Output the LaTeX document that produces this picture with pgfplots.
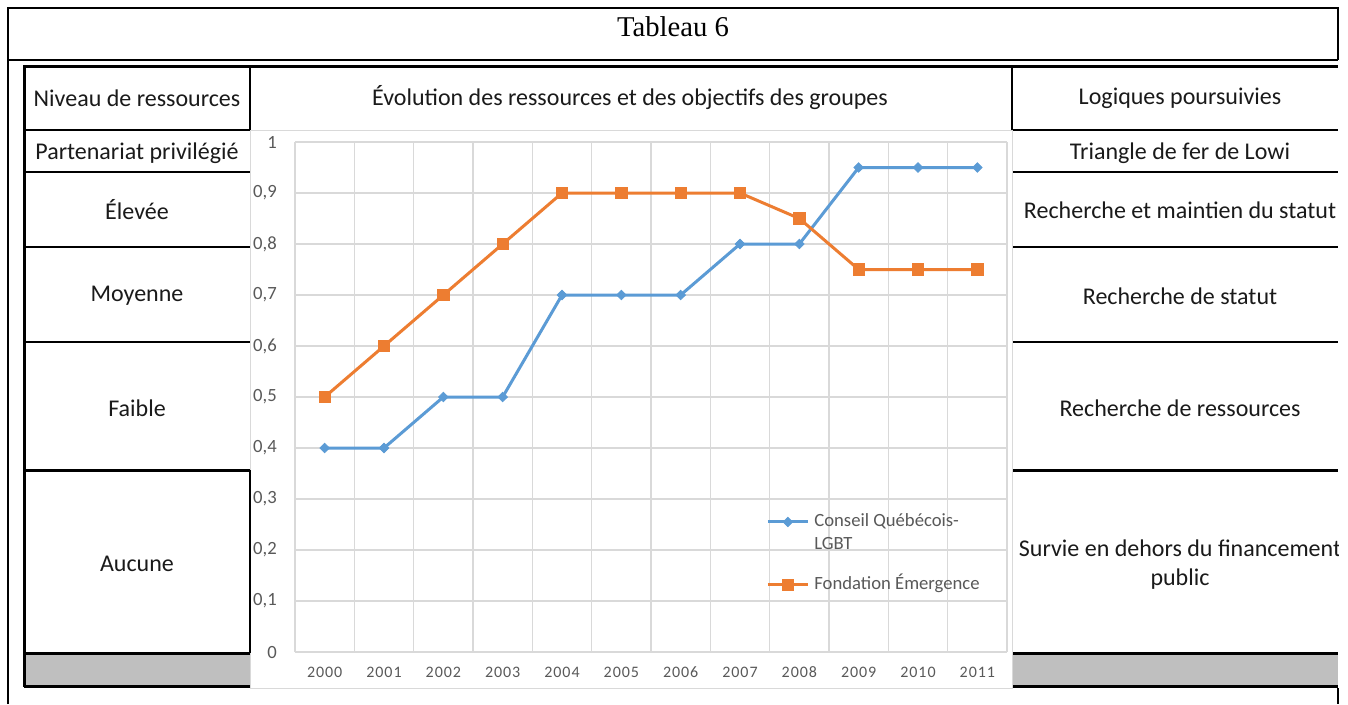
\documentclass[border=0pt]{standalone}
\usepackage{pgfplots}
\pgfplotsset{compat=1.18}
\usepackage{fontspec}
\setmainfont{Carlito}
\newfontfamily\timesf{Liberation Serif}
\definecolor{cblue}{HTML}{5B9BD5}
\definecolor{corange}{HTML}{ED7D31}
\definecolor{tickc}{HTML}{595959}
\definecolor{gridc}{HTML}{D9D9D9}
\definecolor{rowgray}{HTML}{BFBFBF}
\definecolor{txt}{HTML}{1A1A1A}
\begin{document}
\begin{tikzpicture}
\begin{scope}[x=0.75pt,y=-0.75pt]
\path[use as bounding box, fill=white] (0,0) rectangle (1348,704);
% gray bottom row
\fill[rowgray] (24,653) rectangle (250,686);
\fill[rowgray] (1012,653) rectangle (1338,686);
% top box
\draw[line width=1.5pt] (8,704) -- (8,8) -- (1338,8) -- (1338,60);
\draw[line width=1.2pt] (8,60) -- (1338,60);
\draw[line width=2pt] (1338,688) -- (1338,704);
\node[font=\timesf\fontsize{21.5}{24}\selectfont] at (673,27) {Tableau 6};
% table lines
\draw[line width=2.25pt] (24,66) -- (1338,66);
\draw[line width=2.25pt] (24,65) -- (24,687);
\foreach \yy in {130,172,247,342} {
  \draw[line width=1.2pt] (24,\yy) -- (250,\yy);
  \draw[line width=1.2pt] (1012,\yy) -- (1338,\yy);
}
\foreach \yy in {470,653,686} {
  \draw[line width=2.25pt] (24,\yy) -- (250,\yy);
  \draw[line width=2.25pt] (1012,\yy) -- (1338,\yy);
}
\draw[line width=1.5pt] (250,66) -- (250,130);
\draw[line width=1.5pt] (1012,66) -- (1012,130);
% chart area
\fill[white] (250.8,130.8) rectangle (1011.2,688);
\draw[gridc, line width=0.75pt] (250,130) -- (250,688) -- (1012,688) -- (1012,130) -- cycle;
\draw[line width=1.5pt] (250,470) -- (250,653);
% cell texts
\begin{scope}[every node/.style={font=\fontsize{18}{22}\selectfont, text=txt, align=center}]
\node at (137,98) {Niveau de ressources};
\node at (137,153) {Partenariat privilégié};
\node at (137,210) {Élevée};
\node at (137,296) {Moyenne};
\node at (137,408) {Faible};
\node at (137,564) {Aucune};
\node at (630,98) {Évolution des ressources et des objectifs des groupes};
\begin{scope}
\clip (1012,66) rectangle (1338,704);
\node at (1180,98) {Logiques poursuivies};
\node at (1180,153) {Triangle de fer de Lowi};
\node at (1180,210) {Recherche et maintien du statut};
\node at (1180,296) {Recherche de statut};
\node at (1180,408) {Recherche de ressources};
\node at (1180,548) {Survie en dehors du financement};
\node at (1180,579) {public};
\end{scope}
\end{scope}
\end{scope}
\begin{axis}[
  at={(221.25pt,-489pt)}, anchor=south west, scale only axis,
  width=534pt, height=382.5pt,
  xmin=-0.5, xmax=11.5, ymin=0, ymax=1,
  xtick={0,1,2,3,4,5,6,7,8,9,10,11},
  xticklabels={2000,2001,2002,2003,2004,2005,2006,2007,2008,2009,2010,2011},
  minor xtick={-0.5,0.5,1.5,2.5,3.5,4.5,5.5,6.5,7.5,8.5,9.5,10.5,11.5},
  ytick={0,0.1,0.2,0.3,0.4,0.5,0.6,0.7,0.8,0.9,1},
  xminorgrids, ymajorgrids,
  grid style={gridc, line width=0.9pt},
  minor grid style={gridc, line width=0.9pt},
  axis line style={draw=none},
  major tick length=0pt, minor tick length=0pt,
  /pgf/number format/.cd, use comma, fixed, assume math mode=true,
  /pgfplots/.cd,
  yticklabel style={font=\fontsize{14}{16}\selectfont, text=tickc, anchor=east, inner sep=0pt, xshift=-13.5pt},
  xticklabel style={font=\fontsize{12}{14}\selectfont\addfontfeature{LetterSpace=6}, text=tickc, anchor=base, inner sep=0pt, yshift=-18.75pt},
  legend style={at={(axis cs:7.44,0.2725)}, anchor=north west, draw=none, fill=none, inner sep=0pt,
    font=\fontsize{14}{16}\selectfont, text=tickc, cells={anchor=west}, row sep=4.25pt, column sep=3.75pt,
    nodes={inner sep=0pt, text height=10pt, text depth=3pt}},
  legend image code/.code={\draw[#1, mark repeat=2, mark phase=2] plot coordinates {(0pt,0pt) (15pt,0pt) (30pt,0pt)};},
]
\addplot[cblue, line width=2.25pt, mark=diamond*, mark size=3.6pt, mark options={xscale=1.35, line width=0.5pt, solid}]
  coordinates {(0,0.4)(1,0.4)(2,0.5)(3,0.5)(4,0.7)(5,0.7)(6,0.7)(7,0.8)(8,0.8)(9,0.95)(10,0.95)(11,0.95)};
\addlegendentry{Conseil Québécois-}
\addlegendimage{empty legend}
\addlegendentry[text depth=15.75pt]{LGBT}
\addplot[corange, line width=2.25pt, mark=square*, mark size=4.3pt, mark options={line width=0.5pt, solid}]
  coordinates {(0,0.5)(1,0.6)(2,0.7)(3,0.8)(4,0.9)(5,0.9)(6,0.9)(7,0.9)(8,0.85)(9,0.75)(10,0.75)(11,0.75)};
\addlegendentry{Fondation Émergence}
\end{axis}
\end{tikzpicture}
\end{document}
